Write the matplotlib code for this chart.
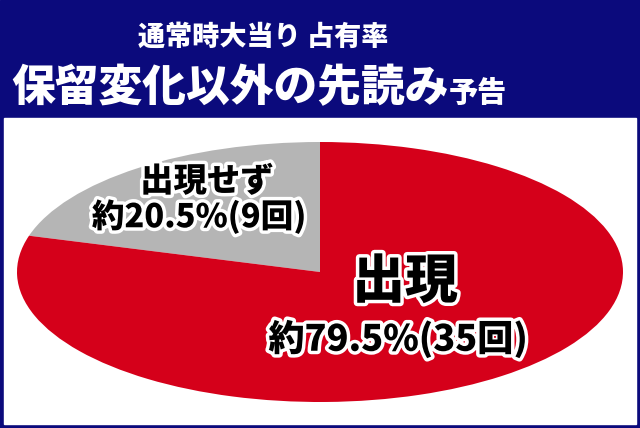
import matplotlib
matplotlib.use('Agg')

import matplotlib.pyplot as plt
import matplotlib.patheffects as pe
from matplotlib.patches import Rectangle

plt.rcParams['font.family'] = ['Noto Sans CJK JP', 'DejaVu Sans']

title1 = "通常時大当り 占有率"
title2 = "保留変化以外の先読み"
title2_small = "予告"

names = ["出現せず", "出現"]
shares = [20.5, 79.5]
counts = [9, 35]
colors = ["#b5b5b5", "#d5001a"]

navy = "#0b0a7c"

fig = plt.figure(figsize=(6.4, 4.28), dpi=100)

# background frame (pixel coords)
bg = fig.add_axes([0, 0, 1, 1])
bg.set_xlim(0, 640)
bg.set_ylim(428, 0)
bg.axis('off')
bg.add_patch(Rectangle((0, 0), 640, 428, color=navy))
bg.add_patch(Rectangle((4, 118), 632, 306, color="white"))

bg.text(263, 37, title1, color="white", fontsize=19.5, fontweight="heavy",
        ha="center", va="center")
bg.text(230, 88, title2, color="white", fontsize=31.5, fontweight="heavy",
        ha="center", va="center")
bg.text(478, 93, title2_small, color="white", fontsize=21, fontweight="heavy",
        ha="center", va="center")

# stretched pie
ax = fig.add_axes([17 / 640, 26 / 428, 606 / 640, 260 / 428])
ax.pie(shares, colors=colors, startangle=90, counterclock=True,
       wedgeprops=dict(linewidth=0))
ax.set_aspect('auto')
ax.set_xlim(-1, 1)
ax.set_ylim(-1, 1)

# labels on top
top = fig.add_axes([0, 0, 1, 1])
top.set_xlim(0, 640)
top.set_ylim(428, 0)
top.axis('off')

stroke = [pe.withStroke(linewidth=5, foreground="white")]

top.text(207, 181, names[0], fontsize=24, fontweight="heavy", ha="center",
         va="center", path_effects=stroke)
top.text(199, 217, f"約{shares[0]}%({counts[0]}回)", fontsize=23.5,
         fontweight="heavy", ha="center", va="center", path_effects=stroke)

top.text(405, 282, names[1], fontsize=38, fontweight="heavy", ha="center",
         va="center", path_effects=stroke)
top.text(398, 339, f"約{shares[1]}%({counts[1]}回)", fontsize=26,
         fontweight="heavy", ha="center", va="center", path_effects=stroke)

fig.savefig("out.png", dpi=100)
